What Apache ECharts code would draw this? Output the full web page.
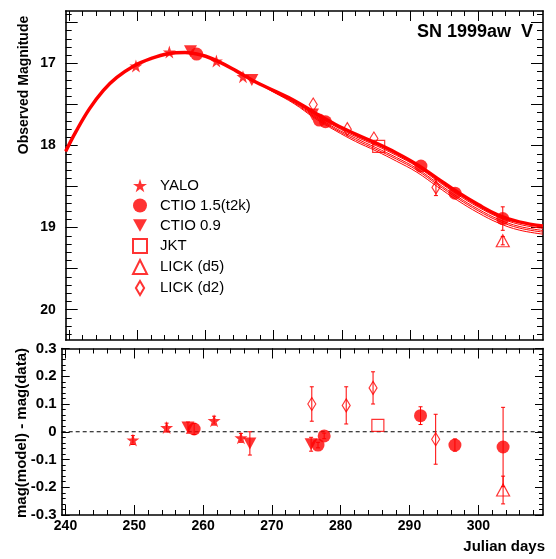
<!DOCTYPE html>
<html><head><meta charset="utf-8">
<script src="https://cdn.jsdelivr.net/npm/echarts@6.0.0/dist/echarts.min.js"></script>
<style>html,body{margin:0;padding:0;background:#fff}#c{width:556px;height:559px}</style>
</head><body><div id="c"></div>
<script>
// ---- model light-curve fits (Julian day vs observed magnitude) ----
const fitJD   = [239.5, 241, 243, 245, 247, 249.5, 252, 254.5, 257, 259.5, 262, 264.5, 267, 270, 273, 276, 279, 282, 285, 288, 291, 294, 297, 300, 303, 306, 309.5];
const fitMain = [18.07, 17.83, 17.55, 17.33, 17.17, 17.03, 16.94, 16.88, 16.865, 16.9, 16.98, 17.09, 17.21, 17.33, 17.45, 17.6, 17.74, 17.86, 17.97, 18.09, 18.23, 18.40, 18.57, 18.72, 18.85, 18.93, 18.98];
const fitB    = [18.07, 17.83, 17.55, 17.33, 17.17, 17.03, 16.94, 16.88, 16.865, 16.9, 16.98, 17.09, 17.21, 17.335, 17.46, 17.62, 17.765, 17.89, 18.0, 18.12, 18.255, 18.43, 18.6, 18.75, 18.875, 18.96, 19.01];
const fitC    = [18.07, 17.83, 17.55, 17.33, 17.17, 17.03, 16.94, 16.88, 16.865, 16.9, 16.98, 17.09, 17.21, 17.34, 17.47, 17.635, 17.785, 17.91, 18.025, 18.145, 18.28, 18.455, 18.625, 18.775, 18.9, 18.985, 19.035];
const fitD    = [18.07, 17.83, 17.55, 17.33, 17.17, 17.03, 16.94, 16.88, 16.865, 16.9, 16.98, 17.09, 17.21, 17.345, 17.48, 17.65, 17.8, 17.93, 18.045, 18.165, 18.3, 18.475, 18.645, 18.795, 18.92, 19.005, 19.055];
const fitE    = [18.07, 17.83, 17.55, 17.33, 17.17, 17.03, 16.94, 16.88, 16.865, 16.9, 16.98, 17.09, 17.21, 17.35, 17.49, 17.665, 17.815, 17.95, 18.065, 18.19, 18.325, 18.5, 18.67, 18.82, 18.945, 19.03, 19.08];

// ---- photometry per instrument (errTop: bar drawn in upper panel, errRes: bar in residual panel) ----
const yaloJD     = [249.8, 254.7, 261.6, 265.5];
const yaloMag    = [17.03, 16.86, 16.97, 17.16];
const yaloErrTop = [0, 0, 0, 0];
const yaloErrRes = [0.016, 0.016, 0.016, 0.016];
const yaloRes    = [-0.03, 0.015, 0.04, -0.022];

const ctio15JD     = [258.7, 276.7, 277.6, 291.6, 296.6, 303.6];
const ctio15Mag    = [16.885, 17.69, 17.71, 18.25, 18.58, 18.89];
const ctio15ErrTop = [0, 0, 0, 0, 0, 0.143];
const ctio15ErrRes = [0.02, 0.01, 0.01, 0.032, 0.022, 0.143];
const ctio15Res    = [0.01, -0.048, -0.015, 0.058, -0.048, -0.055];

const ctio09JD     = [257.8, 266.8, 275.7];
const ctio09Mag    = [16.85, 17.2, 17.62];
const ctio09ErrTop = [0, 0, 0];
const ctio09ErrRes = [0.02, 0.042, 0.025];
const ctio09Res    = [0.015, -0.042, -0.045];

const jktJD     = [285.4];
const jktMag    = [18.01];
const jktErrTop = [0];
const jktErrRes = [0];
const jktRes    = [0.023];

const lick5JD     = [303.6];
const lick5Mag    = [19.16];
const lick5ErrTop = [0.05];
const lick5ErrRes = [0.05];
const lick5Res    = [-0.21];

const lick2JD     = [275.8, 280.8, 284.7, 293.8];
const lick2Mag    = [17.5, 17.8, 17.915, 18.51];
const lick2ErrTop = [0, 0, 0, 0.1];
const lick2ErrRes = [0.062, 0.067, 0.058, 0.09];
const lick2Res    = [0.10, 0.095, 0.158, -0.027];

// ---- ticks / labels ----
const xMajor = [240, 250, 260, 270, 280, 290, 300];
const xLabels = [240, 250, 260, 270, 280, 290, 300];
const magMajor = [16.5, 17, 17.5, 18, 18.5, 19, 19.5, 20];
const magLabels = [17, 18, 19, 20];
const resMajor = [-0.3, -0.2, -0.1, 0, 0.1, 0.2, 0.3];
const resLabels = [-0.3, -0.2, -0.1, 0, 0.1, 0.2, 0.3];

const names = ['YALO', 'CTIO 1.5(t2k)', 'CTIO 0.9', 'JKT', 'LICK (d5)', 'LICK (d2)'];

// ranges
const topX = [239.5, 309.5], botX = [239.45, 309.4];
const topY = [16.36, 20.37], botY = [-0.3, 0.3];

const RED = '#ff0000';
const FONT = '"Liberation Sans", Arial, Helvetica, sans-serif';

function steps(a, b, s) { const o = []; for (let i = 0; a + i * s <= b + 1e-9; i++) o.push(+(a + i * s).toFixed(4)); return o; }
const xMinor = steps(240, 308, 2);
const magMinor = steps(16.4, 20.3, 0.1);
const resMinor = steps(-0.28, 0.28, 0.02);

function ax(grid, pos, rng, tickVals, len, opt) {
  return Object.assign({
    type: 'value', gridIndex: grid, position: pos, min: rng[0], max: rng[1],
    splitLine: { show: false },
    axisLine: { show: false, onZero: false },
    axisTick: { show: true, inside: true, length: len, customValues: tickVals, lineStyle: { color: '#000', width: 1 } },
    axisLabel: { show: false }
  }, opt || {});
}
const frameLine = { show: true, onZero: false, lineStyle: { color: '#000', width: 1.6 } };

const xAxes = [
  ax(0, 'bottom', topX, xMajor, 10, { axisLine: frameLine }),
  ax(0, 'bottom', topX, xMinor, 5),
  ax(0, 'top', topX, xMajor, 10, { axisLine: frameLine }),
  ax(0, 'top', topX, xMinor, 5),
  ax(1, 'bottom', botX, xMajor, 10, { axisLine: frameLine,
    axisLabel: { show: true, customValues: xLabels, fontSize: 14, fontWeight: 'bold', fontFamily: FONT, color: '#000', margin: 4 } }),
  ax(1, 'bottom', botX, xMinor, 5),
  ax(1, 'top', botX, xMajor, 10, { axisLine: frameLine }),
  ax(1, 'top', botX, xMinor, 5)
];
const yAxes = [
  ax(0, 'left', topY, magMajor, 12, { inverse: true, axisLine: frameLine,
    axisLabel: { show: true, customValues: magLabels, fontSize: 14, fontWeight: 'bold', fontFamily: FONT, color: '#000', margin: 10 } }),
  ax(0, 'left', topY, magMinor, 6, { inverse: true }),
  ax(0, 'right', topY, magMajor, 12, { inverse: true, axisLine: frameLine }),
  ax(0, 'right', topY, magMinor, 6, { inverse: true }),
  ax(1, 'left', botY, resMajor, 8, { axisLine: frameLine,
    axisLabel: { show: true, customValues: resLabels, fontSize: 15, fontWeight: 'bold', fontFamily: FONT, color: '#000', margin: 5 } }),
  ax(1, 'left', botY, resMinor, 4),
  ax(1, 'right', botY, resMajor, 8, { axisLine: frameLine }),
  ax(1, 'right', botY, resMinor, 4)
];

const zip = (a, b) => a.map((v, i) => [v, b[i]]);
const errBars = (jd, m, e) => jd.map((v, i) => [v, m[i] - e[i], m[i] + e[i]]).filter((d, i) => e[i] > 0);

const STAR = 'path://M50,0 L61.8,36.2 L100,36.2 L69.1,58.8 L80.9,95.1 L50,72.7 L19.1,95.1 L30.9,58.8 L0,36.2 L38.2,36.2 Z';
const TRI_DOWN = 'path://M0,0 L100,0 L50,90 Z';
const DIAMOND = 'path://M50,0 L100,85 L50,170 L0,85 Z';
const OPEN = { color: 'rgba(255,255,255,0)', borderColor: RED, borderWidth: 1.2 };
const FILL = { color: RED };

const styles = [
  { symbol: STAR, symbolSize: 13, itemStyle: FILL },
  { symbol: 'circle', symbolSize: 13, itemStyle: FILL },
  { symbol: TRI_DOWN, symbolSize: [13, 12], itemStyle: FILL },
  { symbol: 'rect', symbolSize: 12, itemStyle: OPEN },
  { symbol: 'triangle', symbolSize: [13, 12], itemStyle: OPEN },
  { symbol: DIAMOND, symbolSize: [8, 13], itemStyle: OPEN }
];
const sets = [
  [yaloJD, yaloMag, yaloErrTop, yaloErrRes, yaloRes],
  [ctio15JD, ctio15Mag, ctio15ErrTop, ctio15ErrRes, ctio15Res],
  [ctio09JD, ctio09Mag, ctio09ErrTop, ctio09ErrRes, ctio09Res],
  [jktJD, jktMag, jktErrTop, jktErrRes, jktRes],
  [lick5JD, lick5Mag, lick5ErrTop, lick5ErrRes, lick5Res],
  [lick2JD, lick2Mag, lick2ErrTop, lick2ErrRes, lick2Res]
];

function errRender(params, api) {
  const x = api.value(0), lo = api.value(1), hi = api.value(2);
  const p1 = api.coord([x, lo]), p2 = api.coord([x, hi]);
  const c = 2, st = { stroke: RED, lineWidth: 1 };
  return { type: 'group', children: [
    { type: 'line', shape: { x1: p1[0], y1: p1[1], x2: p2[0], y2: p2[1] }, style: st },
    { type: 'line', shape: { x1: p1[0] - c, y1: p1[1], x2: p1[0] + c, y2: p1[1] }, style: st },
    { type: 'line', shape: { x1: p2[0] - c, y1: p2[1], x2: p2[0] + c, y2: p2[1] }, style: st }
  ] };
}

const series = [];
[fitE, fitD, fitC, fitB].forEach(f => series.push({
  type: 'line', xAxisIndex: 0, yAxisIndex: 0, data: zip(fitJD, f), smooth: 0.4, showSymbol: false, symbol: 'none',
  lineStyle: { color: RED, width: 1 }, z: 1, silent: true
}));
series.push({ type: 'line', xAxisIndex: 0, yAxisIndex: 0, data: zip(fitJD, fitMain), smooth: 0.4, showSymbol: false, symbol: 'none',
  lineStyle: { color: RED, width: 3.5 }, z: 2, silent: true });

sets.forEach((s) => {
  const [jd, mag, eTop, eRes, res] = s;
  series.push({ type: 'custom', xAxisIndex: 0, yAxisIndex: 0, renderItem: errRender, data: errBars(jd, mag, eTop), encode: { x: 0, y: [1, 2] }, z: 3, silent: true });
  series.push({ type: 'custom', xAxisIndex: 4, yAxisIndex: 4, renderItem: errRender, data: errBars(jd, res, eRes), encode: { x: 0, y: [1, 2] }, z: 3, silent: true });
});
sets.forEach((s, k) => {
  const [jd, mag, eTop, eRes, res] = s;
  series.push(Object.assign({ type: 'scatter', name: names[k], xAxisIndex: 0, yAxisIndex: 0, data: zip(jd, mag), z: 4 }, styles[k]));
  series.push(Object.assign({ type: 'scatter', name: names[k], xAxisIndex: 4, yAxisIndex: 4, data: zip(jd, res), z: 4 }, styles[k]));
});
series.push({ type: 'line', xAxisIndex: 4, yAxisIndex: 4, data: [[botX[0], 0], [botX[1], 0]], symbol: 'none',
  lineStyle: { color: '#000', width: 1, type: [4, 3] }, z: 2, silent: true });

const chart = echarts.init(document.getElementById('c'), null, { renderer: 'canvas' });
chart.setOption({
  animation: false,
  backgroundColor: '#fff',
  grid: [
    { left: 65.7, right: 13, top: 11, height: 329 },
    { left: 61.7, right: 13, top: 348.5, height: 166.5 }
  ],
  xAxis: xAxes,
  yAxis: yAxes,
  legend: {
    orient: 'vertical', left: 132, top: 178, itemWidth: 14, itemHeight: 14, itemGap: 5, padding: 0,
    data: names, selectedMode: false,
    textStyle: { fontSize: 15, fontFamily: FONT, color: '#000', padding: [0, 0, 0, 8] }
  },
  graphic: [
    { type: 'text', x: 533, y: 32, style: { text: 'SN 1999aw  V', font: 'bold 18px ' + FONT, fill: '#000', align: 'right', verticalAlign: 'middle' } },
    { type: 'text', x: 24, y: 85, rotation: Math.PI / 2, style: { text: 'Observed Magnitude', font: 'bold 14px ' + FONT, fill: '#000', align: 'center', verticalAlign: 'middle' } },
    { type: 'text', x: 22, y: 433, rotation: Math.PI / 2, style: { text: 'mag(model) - mag(data)', font: 'bold 15px ' + FONT, fill: '#000', align: 'center', verticalAlign: 'middle' } },
    { type: 'text', x: 545, y: 547, style: { text: 'Julian days', font: 'bold 15px ' + FONT, fill: '#000', align: 'right', verticalAlign: 'middle' } }
  ],
  series: series
});
</script>
</body></html>
